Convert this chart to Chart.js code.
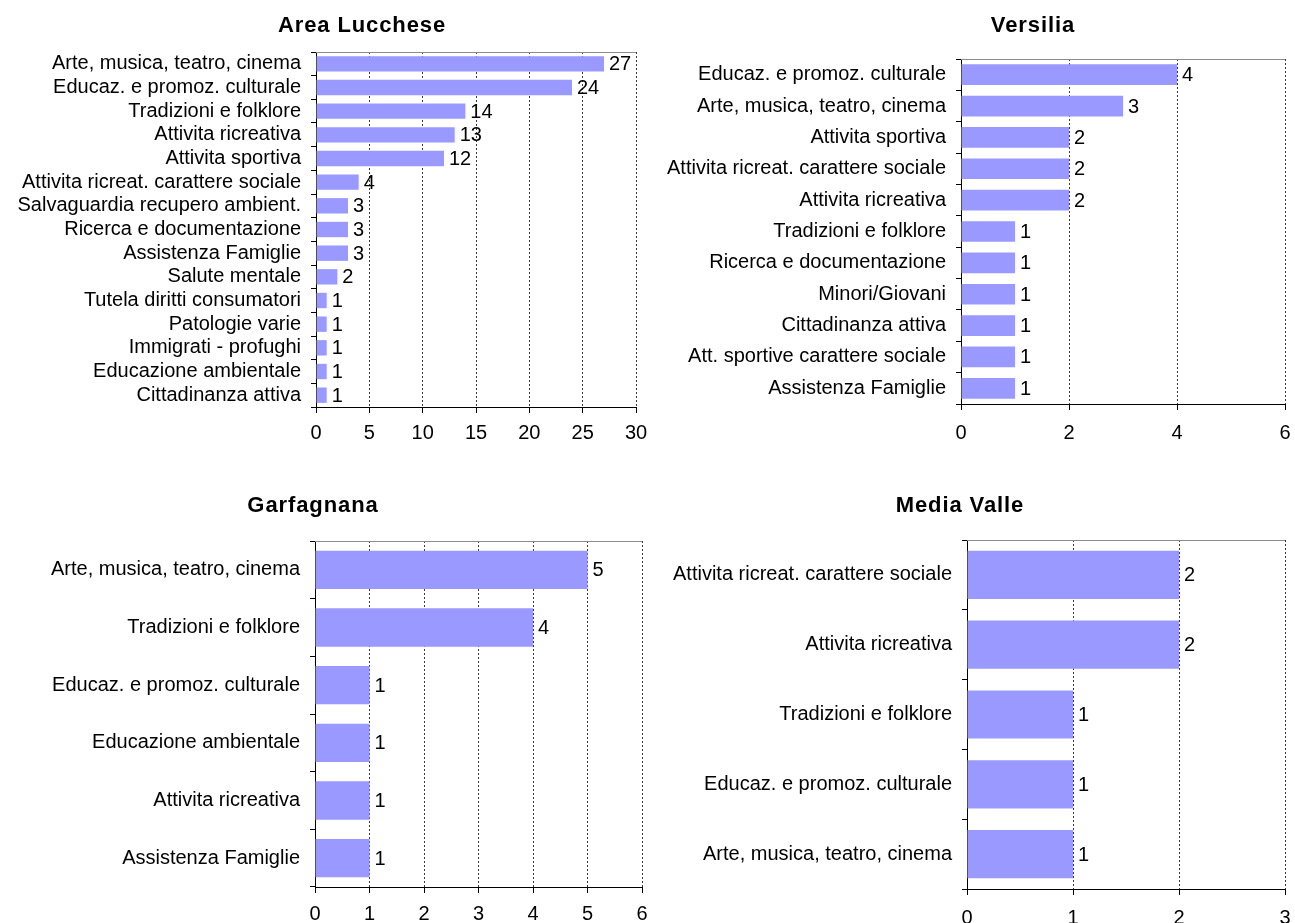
<!DOCTYPE html>
<html>
<head>
<meta charset="utf-8">
<script src="https://cdn.jsdelivr.net/npm/chart.js@4.4.0/dist/chart.umd.min.js"></script>
<style>
  html, body { margin: 0; padding: 0; background: #fff; }
  body { width: 1295px; height: 923px; position: relative; overflow: hidden; }
  .box { position: absolute; }
</style>
</head>
<body>
<div class="box" style="left:0;top:0;width:648px;height:460px"><canvas id="c1"></canvas></div>
<div class="box" style="left:648px;top:0;width:647px;height:460px"><canvas id="c2"></canvas></div>
<div class="box" style="left:0;top:462px;width:648px;height:461px"><canvas id="c3"></canvas></div>
<div class="box" style="left:648px;top:462px;width:647px;height:461px"><canvas id="c4"></canvas></div>
<script>
// ---- data ----
const luccheseTitle = "Area Lucchese";
const luccheseLabels = ["Arte, musica, teatro, cinema","Educaz. e promoz. culturale","Tradizioni e folklore","Attivita ricreativa","Attivita sportiva","Attivita ricreat. carattere sociale","Salvaguardia recupero ambient.","Ricerca e documentazione","Assistenza Famiglie","Salute mentale","Tutela diritti consumatori","Patologie varie","Immigrati - profughi","Educazione ambientale","Cittadinanza attiva"];
const luccheseValues = [27,24,14,13,12,4,3,3,3,2,1,1,1,1,1];
const luccheseAxis = { max: 30, step: 5 };

const versiliaTitle = "Versilia";
const versiliaLabels = ["Educaz. e promoz. culturale","Arte, musica, teatro, cinema","Attivita sportiva","Attivita ricreat. carattere sociale","Attivita ricreativa","Tradizioni e folklore","Ricerca e documentazione","Minori/Giovani","Cittadinanza attiva","Att. sportive carattere sociale","Assistenza Famiglie"];
const versiliaValues = [4,3,2,2,2,1,1,1,1,1,1];
const versiliaAxis = { max: 6, step: 2 };

const garfagnanaTitle = "Garfagnana";
const garfagnanaLabels = ["Arte, musica, teatro, cinema","Tradizioni e folklore","Educaz. e promoz. culturale","Educazione ambientale","Attivita ricreativa","Assistenza Famiglie"];
const garfagnanaValues = [5,4,1,1,1,1];
const garfagnanaAxis = { max: 6, step: 1 };

const mediaValleTitle = "Media Valle";
const mediaValleLabels = ["Attivita ricreat. carattere sociale","Attivita ricreativa","Tradizioni e folklore","Educaz. e promoz. culturale","Arte, musica, teatro, cinema"];
const mediaValleValues = [2,2,1,1,1];
const mediaValleAxis = { max: 3, step: 1 };

// ---- rendering ----
const FONT = "'Liberation Sans', Arial, sans-serif";
const BAR = "#9999FF";

const decor = {
  id: 'decor',
  afterDatasetsDraw(chart, args, o) {
    const ctx = chart.ctx, a = chart.chartArea;
    ctx.save();
    // top border
    ctx.strokeStyle = '#8c8c8c'; ctx.lineWidth = 1;
    ctx.beginPath(); ctx.moveTo(a.left, Math.round(a.top) + 0.5); ctx.lineTo(a.right, Math.round(a.top) + 0.5); ctx.stroke();
    // value labels
    ctx.fillStyle = '#000';
    ctx.font = '20px ' + FONT;
    ctx.textAlign = 'left'; ctx.textBaseline = 'middle';
    const meta = chart.getDatasetMeta(0);
    meta.data.forEach((bar, i) => {
      ctx.fillText(String(chart.data.datasets[0].data[i]), bar.x + 5, bar.y + 1);
    });
    // title
    ctx.font = 'bold 22px ' + FONT;
    if ('letterSpacing' in ctx) ctx.letterSpacing = '0.9px';
    ctx.textAlign = 'center';
    ctx.fillText(o.text, o.x, o.y);
    ctx.restore();
  }
};

function make(id, title, labels, values, axis, g) {
  new Chart(document.getElementById(id), {
    type: 'bar',
    data: { labels: labels, datasets: [{ data: values, backgroundColor: BAR, borderWidth: 0, categoryPercentage: 1, barPercentage: g.bp }] },
    options: {
      indexAxis: 'y',
      responsive: true, maintainAspectRatio: false, animation: false,
      layout: { padding: { left: 0, right: g.pr, top: g.top, bottom: 0 } },
      plugins: { legend: { display: false }, tooltip: { enabled: false }, title: { display: false },
        decor: { text: title, x: g.tx, y: g.ty } },
      scales: {
        x: {
          min: 0, max: axis.max,
          afterFit(s) { s.height = g.xh; s.paddingRight = 0; s.paddingLeft = 0; },
          ticks: { stepSize: axis.step, color: '#000', font: { family: FONT, size: 20 }, padding: g.xp, maxRotation: 0 },
          grid: { color: '#3a3a3a', lineWidth: 1, tickLength: 6, tickColor: '#000', tickBorderDash: [] },
          border: { color: '#000', width: 1, dash: [2, 2] }
        },
        y: {
          afterFit(s) { s.width = g.yw; },
          ticks: { color: '#000', font: { family: FONT, size: 20 }, padding: 10, autoSkip: false },
          grid: { drawOnChartArea: false, tickLength: 5, tickColor: '#000', offset: true },
          border: { color: '#000', width: 1 }
        }
      }
    },
    plugins: [decor]
  });
}

make('c1', luccheseTitle, luccheseLabels, luccheseValues, luccheseAxis, { bp: 0.65, pr: 12, top: 52, xh: 53, yw: 316, tx: 362, ty: 26, xp: 8 });
make('c2', versiliaTitle, versiliaLabels, versiliaValues, versiliaAxis, { bp: 0.66, pr: 10, top: 59, xh: 56, yw: 313, tx: 385, ty: 26, xp: 11 });
make('c3', garfagnanaTitle, garfagnanaLabels, garfagnanaValues, garfagnanaAxis, { bp: 0.665, pr: 6, top: 79, xh: 36, yw: 315, tx: 313, ty: 44, xp: 9 });
make('c4', mediaValleTitle, mediaValleLabels, mediaValleValues, mediaValleAxis, { bp: 0.69, pr: 10, top: 78, xh: 34, yw: 319, tx: 312, ty: 44, xp: 11 });
</script>
</body>
</html>
